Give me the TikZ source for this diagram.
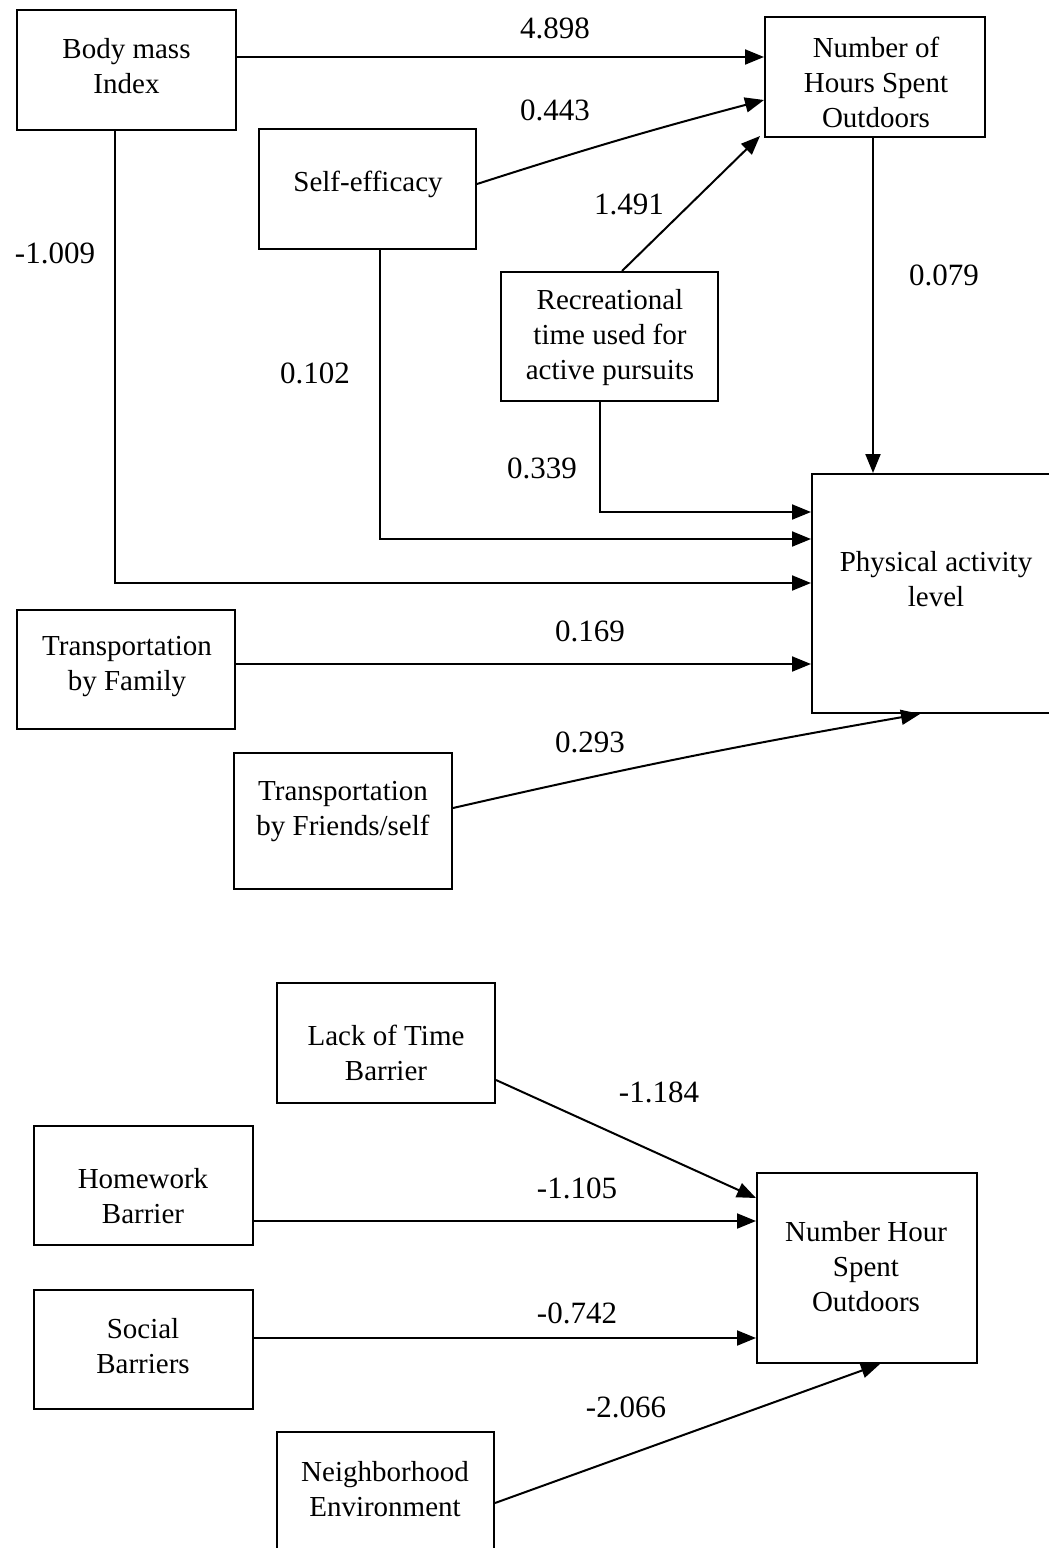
\documentclass[tikz,border=0pt]{standalone}
\usepackage{fontspec}
\setmainfont{Liberation Serif}
\usetikzlibrary{arrows.meta}
\begin{document}
\begin{tikzpicture}[x=0.5pt,y=-0.5pt,
  box/.style={draw, line width=1pt, inner sep=0pt},
  txt/.style={align=center, font=\fontsize{14.5pt}{17.5pt}\selectfont, inner sep=0pt},
  lbl/.style={font=\fontsize{15.5pt}{18pt}\selectfont, inner sep=0pt},
  conn/.style={line width=1pt, -{Triangle[length=9.5pt,width=7.5pt]}}]
\useasboundingbox (0,0) rectangle (1049,1548);

% ---- upper diagram: boxes
\node[box, minimum width=109.5pt, minimum height=60pt] (bmi) at (126.5,70) {};
\node[txt] (bmi-t) at (126.5,66.5) {Body mass\\Index};
\node[box, minimum width=110pt, minimum height=60pt] (nhso) at (875,77) {};
\node[txt] (nhso-t) at (876,82) {Number of\\Hours Spent\\Outdoors};
\node[box, minimum width=108.5pt, minimum height=60pt] (se) at (367.5,189) {};
\node[txt] (se-t) at (368,184) {Self-efficacy};
\node[box, minimum width=108.5pt, minimum height=64.5pt] (rec) at (609.5,336.5) {};
\node[txt] (rec-t) at (610,338) {Recreational\\time used for\\active pursuits};
\node[box, minimum width=124pt, minimum height=119.5pt] (pa) at (936,593.5) {};
\node[txt] (pa-t) at (936,579.5) {Physical activity\\level};
\node[box, minimum width=109pt, minimum height=59.5pt] (tf) at (126,669.5) {};
\node[txt] (tf-t) at (127,666.5) {Transportation\\by Family};
\node[box, minimum width=109pt, minimum height=68pt] (tfs) at (343,821) {};
\node[txt] (tfs-t) at (343,811.5) {Transportation\\by Friends/self};

% ---- upper diagram: connectors
\draw[conn] ([yshift=6.5pt]bmi.east) -- ([yshift=10pt]nhso.west);
\draw[conn] ([yshift=2.5pt]se.east) to[bend left=1.5] ([yshift=-11.5pt]nhso.west);
\draw[conn] ([xshift=6.25pt]rec.north) -- ([xshift=-2pt,yshift=1pt]nhso.south west);
\draw[conn] ([xshift=-1pt]nhso.south) -- ([xshift=-1pt]nhso.south |- pa.north);
\draw[conn] ([xshift=-4.75pt]rec.south) |- ([yshift=40.75pt]pa.west);
\draw[conn] ([xshift=6.25pt]se.south) |- ([yshift=27.25pt]pa.west);
\draw[conn] ([xshift=-5.75pt]bmi.south) |- ([yshift=5.25pt]pa.west);
\draw[conn] ([yshift=2.75pt]tf.east) -- ([yshift=-35.25pt]pa.west);
\draw[conn] ([yshift=6.5pt]tfs.east) to[bend left=1.5] ([xshift=-8pt]pa.south);

% ---- upper diagram: labels
\node[lbl] (l1) at (555,28) {4.898};
\node[lbl] (l2) at (555,110) {0.443};
\node[lbl] (l3) at (629,204) {1.491};
\node[lbl] (l4) at (944,275) {0.079};
\node[lbl] (l5) at (315,373) {0.102};
\node[lbl] (l6) at (55,253) {-1.009};
\node[lbl] (l7) at (542,468) {0.339};
\node[lbl] (l8) at (590,631) {0.169};
\node[lbl] (l9) at (590,742) {0.293};

% ---- lower diagram: boxes
\node[box, minimum width=109pt, minimum height=60pt] (lot) at (386,1043) {};
\node[txt] (lot-t) at (386,1052.5) {Lack of Time\\Barrier};
\node[box, minimum width=109.5pt, minimum height=59.5pt] (hw) at (143.5,1185.5) {};
\node[txt] (hw-t) at (143,1196.5) {Homework\\Barrier};
\node[box, minimum width=110pt, minimum height=95pt] (nho) at (867,1268) {};
\node[txt] (nho-t) at (866,1267) {Number Hour\\Spent\\Outdoors};
\node[box, minimum width=109.5pt, minimum height=59.5pt] (sb) at (143.5,1349.5) {};
\node[txt] (sb-t) at (143,1346.5) {Social\\Barriers};
\node[box, minimum width=108.5pt, minimum height=64pt] (ne) at (385.5,1496) {};
\node[txt] (ne-t) at (385,1489.5) {Neighborhood\\Environment};

% ---- lower diagram: connectors
\draw[conn] ([yshift=-18.5pt]lot.east) -- ([yshift=35pt]nho.west);
\draw[conn] ([yshift=-17.75pt]hw.east) -- ([yshift=23.5pt]nho.west);
\draw[conn] ([yshift=5.75pt]sb.east) -- ([yshift=-35pt]nho.west);
\draw[conn] ([yshift=-3.5pt]ne.east) -- ([xshift=6.5pt]nho.south);

% ---- lower diagram: labels
\node[lbl] (m1) at (659,1092) {-1.184};
\node[lbl] (m2) at (577,1188) {-1.105};
\node[lbl] (m3) at (577,1313) {-0.742};
\node[lbl] (m4) at (626,1407) {-2.066};
\end{tikzpicture}
\end{document}
